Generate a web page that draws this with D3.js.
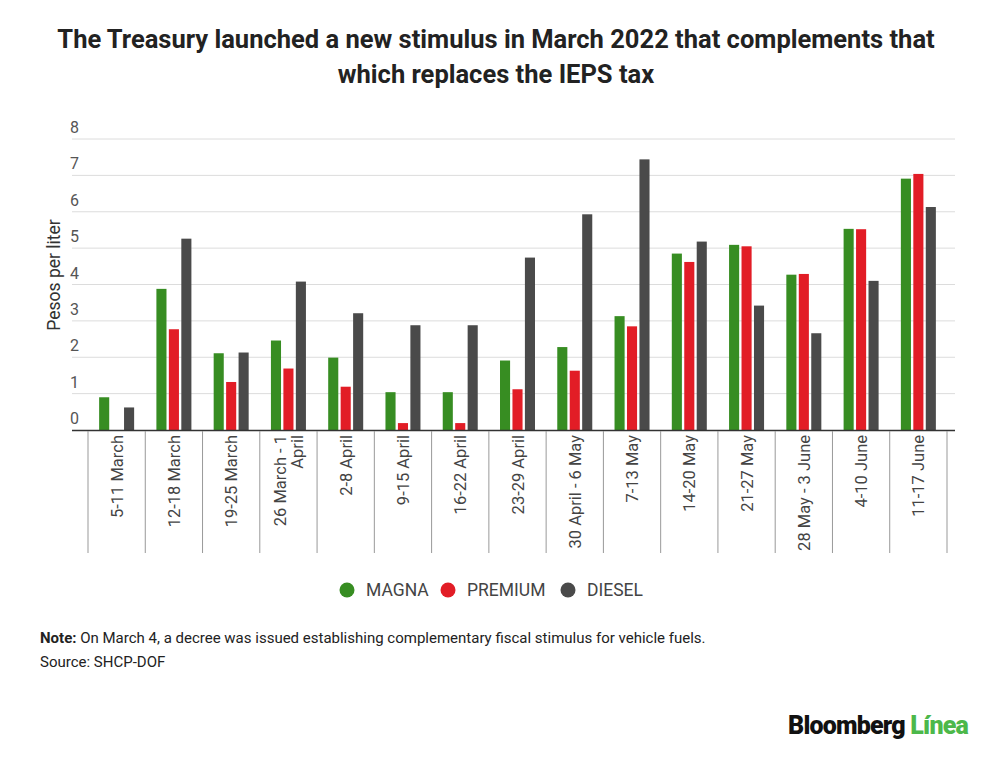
<!DOCTYPE html>
<html>
<head>
<meta charset="utf-8">
<script src="https://cdn.jsdelivr.net/npm/d3@7"></script>
<style>
  body { margin: 0; background: #fff; font-family: Roboto, "Noto Sans", sans-serif; }
  svg text { font-family: Roboto, "Noto Sans", sans-serif; }
</style>
</head>
<body>
<svg id="chart" width="1000" height="758"></svg>
<script>
// weekly stimulus, pesos per liter
var weeks = ["5-11 March", "12-18 March", "19-25 March", "26 March - 1|April", "2-8 April",
  "9-15 April", "16-22 April", "23-29 April", "30 April - 6 May", "7-13 May",
  "14-20 May", "21-27 May", "28 May - 3 June", "4-10 June", "11-17 June"];
var magna   = [0.90, 3.88, 2.11, 2.46, 1.99, 1.04, 1.04, 1.91, 2.28, 3.13, 4.85, 5.09, 4.27, 5.53, 6.91];
var premium = [0,    2.77, 1.32, 1.69, 1.19, 0.19, 0.19, 1.12, 1.63, 2.85, 4.62, 5.05, 4.29, 5.52, 7.04];
var diesel  = [0.62, 5.26, 2.13, 4.08, 3.21, 2.88, 2.88, 4.74, 5.93, 7.44, 5.18, 3.42, 2.66, 4.10, 6.13];
var seriesNames = ["MAGNA", "PREMIUM", "DIESEL"];
var yTicks = [0, 1, 2, 3, 4, 5, 6, 7, 8];

var colors = { MAGNA: "#378d22", PREMIUM: "#e21d26", DIESEL: "#4a4a4a" };

var svg = d3.select("#chart");

// title
var title = svg.append("text")
  .attr("x", 496).attr("y", 48)
  .attr("text-anchor", "middle")
  .attr("font-size", 25.5).attr("font-weight", "bold").attr("fill", "#222");
title.append("tspan").attr("x", 496).text("The Treasury launched a new stimulus in March 2022 that complements that");
title.append("tspan").attr("x", 496).attr("dy", 35).text("which replaces the IEPS tax");

var x = d3.scaleBand().domain(weeks).range([88, 947]).padding(0);
var y = d3.scaleLinear().domain([0, 8]).range([430, 139]);
var xs = d3.scaleBand().domain(seriesNames).range([0, 35]).paddingInner(0.19);

// gridlines + tick labels
var grid = svg.append("g");
grid.selectAll("line").data(yTicks.filter(d => d > 0)).enter().append("line")
  .attr("x1", 72).attr("x2", 955)
  .attr("y1", d => y(d)).attr("y2", d => y(d))
  .attr("stroke", "#dcdcdc").attr("stroke-width", 1);
grid.selectAll("text").data(yTicks).enter().append("text")
  .attr("x", 70).attr("y", d => y(d) - 6)
  .attr("font-size", 16).attr("fill", "#555")
  .text(d => d);

svg.append("text")
  .attr("transform", "translate(60,275) rotate(-90)")
  .attr("text-anchor", "middle")
  .attr("font-size", 17.5).attr("fill", "#333")
  .text("Pesos per liter");

// bars
var rows = weeks.map((w, i) => ({ week: w, values: [
  { key: "MAGNA", v: magna[i] }, { key: "PREMIUM", v: premium[i] }, { key: "DIESEL", v: diesel[i] }] }));

var groups = svg.append("g").selectAll("g").data(rows).enter().append("g")
  .attr("transform", d => "translate(" + (x(d.week) + x.bandwidth() / 2 - 17.5) + ",0)");
groups.selectAll("rect").data(d => d.values.filter(s => s.v > 0)).enter().append("rect")
  .attr("x", d => xs(d.key))
  .attr("width", xs.bandwidth())
  .attr("y", d => y(d.v))
  .attr("height", d => y(0) - y(d.v))
  .attr("fill", d => colors[d.key]);

// x axis: baseline, dividers, rotated labels
svg.append("line").attr("x1", 72).attr("x2", 955).attr("y1", 430.5).attr("y2", 430.5)
  .attr("stroke", "#333").attr("stroke-width", 1.5);
var divs = weeks.map(w => x(w)).concat([x.range()[1]]);
svg.append("g").selectAll("line").data(divs).enter().append("line")
  .attr("x1", d => d).attr("x2", d => d).attr("y1", 431).attr("y2", 553)
  .attr("stroke", "#999").attr("stroke-width", 1);

var xl = svg.append("g").selectAll("text").data(weeks).enter().append("text")
  .attr("transform", d => "translate(" + (x(d) + x.bandwidth() / 2) + ",435) rotate(-90)")
  .attr("text-anchor", "end")
  .attr("font-size", 16.5).attr("fill", "#444");
xl.each(function(d) {
  var parts = d.split("|");
  var el = d3.select(this);
  var off = (parts.length - 1) * 17 / 2;
  parts.forEach((p, i) => {
    el.append("tspan").attr("x", 0).attr("y", 6 - off + i * 17).text(p);
  });
});

// legend
var legendX = [347, 448, 568];
var lg = svg.append("g").selectAll("g").data(seriesNames).enter().append("g")
  .attr("transform", (d, i) => "translate(" + legendX[i] + ",590)");
lg.append("circle").attr("r", 7.5).attr("fill", d => colors[d]);
lg.append("text").attr("x", 19).attr("y", 6)
  .attr("font-size", 17.5).attr("fill", "#444").text(d => d);

// notes
var note = svg.append("text").attr("x", 40).attr("y", 643).attr("font-size", 15).attr("fill", "#222");
note.append("tspan").attr("font-weight", "bold").text("Note:");
note.append("tspan").text(" On March 4, a decree was issued establishing complementary fiscal stimulus for vehicle fuels.");
svg.append("text").attr("x", 40).attr("y", 667).attr("font-size", 15).attr("fill", "#222")
  .text("Source: SHCP-DOF");

// logo
var logo = svg.append("text").attr("x", 968).attr("y", 734).attr("text-anchor", "end")
  .attr("font-size", 25).attr("font-weight", 900).attr("letter-spacing", -0.8);
logo.append("tspan").attr("fill", "#111").text("Bloomberg ");
logo.append("tspan").attr("fill", "#4cb84a").text("Línea");
</script>
</body>
</html>
